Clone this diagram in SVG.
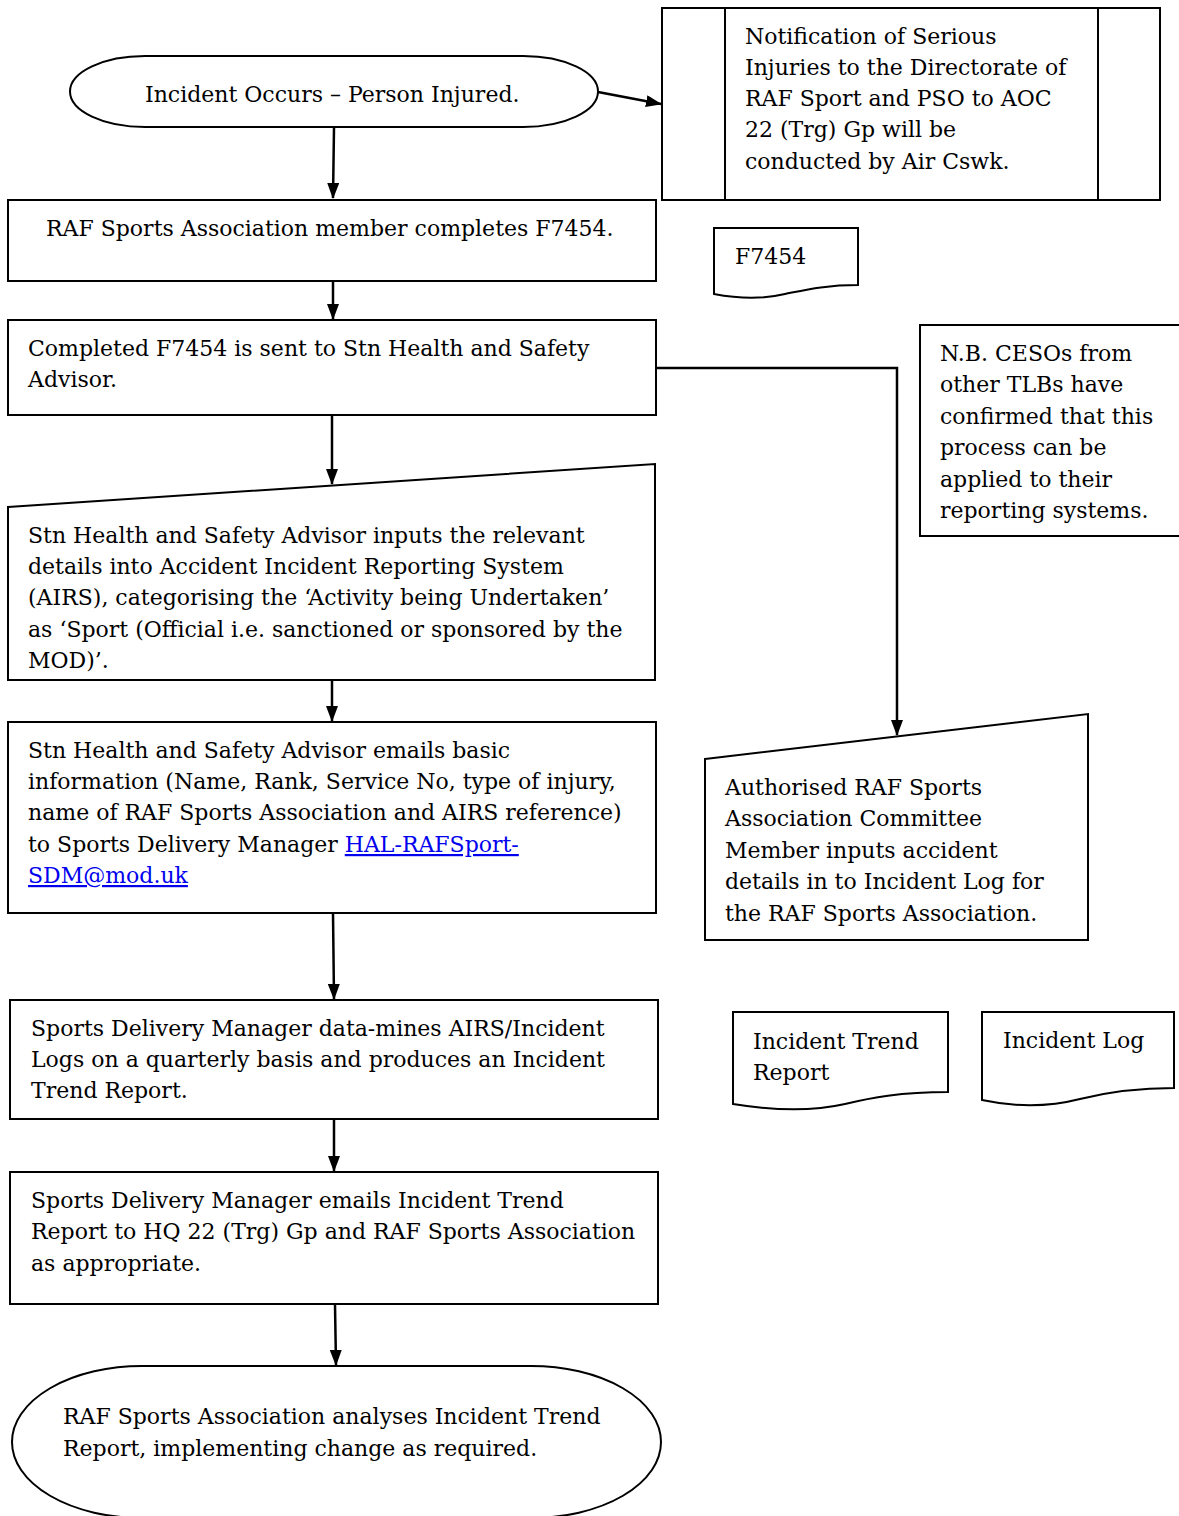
<svg xmlns="http://www.w3.org/2000/svg" width="1179" height="1516" viewBox="0 0 1179 1516">
<defs>
<marker id="ah" viewBox="0 0 16 12" refX="15" refY="6" markerWidth="16" markerHeight="12" markerUnits="userSpaceOnUse" orient="auto">
<path d="M0,0 L16,6 L0,12 Z" fill="#000"/>
</marker>
<style>
.s{fill:#fff;stroke:#000;stroke-width:2}
.t{font-family:"DejaVu Serif","Liberation Serif",serif;font-size:22px;fill:#000}
.c{fill:none;stroke:#000;stroke-width:2.5}
.l{fill:#0000ee;text-decoration:underline}
</style>
</defs>
<rect width="1179" height="1516" fill="#fff"/>
<g id="start">
<rect class="s" x="70" y="56" width="528" height="71" rx="75" ry="35.5"/>
<text class="t" x="145" y="102">Incident Occurs – Person Injured.</text>
</g>
<g id="notify">
<rect class="s" x="662" y="8" width="498" height="192"/>
<line class="s" x1="725" y1="8" x2="725" y2="200"/>
<line class="s" x1="1098" y1="8" x2="1098" y2="200"/>
<text class="t" x="745" y="44">Notification of Serious</text>
<text class="t" x="745" y="75">Injuries to the Directorate of</text>
<text class="t" x="745" y="106">RAF Sport and PSO to AOC</text>
<text class="t" x="745" y="137">22 (Trg) Gp will be</text>
<text class="t" x="745" y="169">conducted by Air Cswk.</text>
</g>
<g id="complete">
<rect class="s" x="8" y="200" width="648" height="81"/>
<text class="t" x="46" y="236">RAF Sports Association member completes F7454.</text>
</g>
<g id="docF7454">
<path class="s" d="M714,228 H858 V285 C825,285 805,290 785,294 C760,300 735,298 714,294 Z"/>
<text class="t" x="735" y="264">F7454</text>
</g>
<g id="sent">
<rect class="s" x="8" y="320" width="648" height="95"/>
<text class="t" x="28" y="356">Completed F7454 is sent to Stn Health and Safety</text>
<text class="t" x="28" y="387">Advisor.</text>
</g>
<g id="note">
<path class="s" d="M1180,325 H920 V536 H1180"/>
<text class="t" x="940" y="361">N.B. CESOs from</text>
<text class="t" x="940" y="392">other TLBs have</text>
<text class="t" x="940" y="424">confirmed that this</text>
<text class="t" x="940" y="455">process can be</text>
<text class="t" x="940" y="487">applied to their</text>
<text class="t" x="940" y="518">reporting systems.</text>
</g>
<g id="airs">
<path class="s" d="M8,507 L655,464 V680 H8 Z"/>
<text class="t" x="28" y="543">Stn Health and Safety Advisor inputs the relevant</text>
<text class="t" x="28" y="574">details into Accident Incident Reporting System</text>
<text class="t" x="28" y="605">(AIRS), categorising the ‘Activity being Undertaken’</text>
<text class="t" x="28" y="637">as ‘Sport (Official i.e. sanctioned or sponsored by the</text>
<text class="t" x="28" y="668">MOD)’.</text>
</g>
<g id="email">
<rect class="s" x="8" y="722" width="648" height="191"/>
<text class="t" x="28" y="758">Stn Health and Safety Advisor emails basic</text>
<text class="t" x="28" y="789">information (Name, Rank, Service No, type of injury,</text>
<text class="t" x="28" y="820">name of RAF Sports Association and AIRS reference)</text>
<text class="t" x="28" y="852">to Sports Delivery Manager <tspan class="l">HAL-RAFSport-</tspan></text>
<text class="t l" x="28" y="883">SDM@mod.uk</text>
</g>
<g id="log">
<path class="s" d="M705,759 L1088,714 V940 H705 Z"/>
<text class="t" x="725" y="795">Authorised RAF Sports</text>
<text class="t" x="725" y="826">Association Committee</text>
<text class="t" x="725" y="858">Member inputs accident</text>
<text class="t" x="725" y="889">details in to Incident Log for</text>
<text class="t" x="725" y="921">the RAF Sports Association.</text>
</g>
<g id="datamine">
<rect class="s" x="10" y="1000" width="648" height="119"/>
<text class="t" x="31" y="1036">Sports Delivery Manager data-mines AIRS/Incident</text>
<text class="t" x="31" y="1067">Logs on a quarterly basis and produces an Incident</text>
<text class="t" x="31" y="1098">Trend Report.</text>
</g>
<g id="docTrend">
<path class="s" d="M733,1012 H948 V1092 C900,1092 870,1098 845,1104 C810,1112 770,1110 733,1104 Z"/>
<text class="t" x="753" y="1049">Incident Trend</text>
<text class="t" x="753" y="1080">Report</text>
</g>
<g id="docLog">
<path class="s" d="M982,1012 H1174 V1088 C1130,1088 1100,1094 1080,1099 C1045,1108 1010,1106 982,1100 Z"/>
<text class="t" x="1003" y="1048">Incident Log</text>
</g>
<g id="report">
<rect class="s" x="10" y="1172" width="648" height="132"/>
<text class="t" x="31" y="1208">Sports Delivery Manager emails Incident Trend</text>
<text class="t" x="31" y="1239">Report to HQ 22 (Trg) Gp and RAF Sports Association</text>
<text class="t" x="31" y="1271">as appropriate.</text>
</g>
<g id="end">
<rect class="s" x="12" y="1366" width="649" height="152" rx="130" ry="76"/>
<text class="t" x="63" y="1424">RAF Sports Association analyses Incident Trend</text>
<text class="t" x="63" y="1456">Report, implementing change as required.</text>
</g>
<g id="connectors">
<line class="c" x1="334" y1="128" x2="333" y2="198" marker-end="url(#ah)"/>
<line class="c" x1="598" y1="92" x2="661" y2="104" marker-end="url(#ah)"/>
<line class="c" x1="333" y1="281" x2="333" y2="319" marker-end="url(#ah)"/>
<polyline class="c" points="656,368 897,368 897,735" marker-end="url(#ah)"/>
<line class="c" x1="332" y1="415" x2="332" y2="484" marker-end="url(#ah)"/>
<line class="c" x1="332" y1="680" x2="332" y2="721" marker-end="url(#ah)"/>
<line class="c" x1="333" y1="913" x2="334" y2="999" marker-end="url(#ah)"/>
<line class="c" x1="334" y1="1120" x2="334" y2="1171" marker-end="url(#ah)"/>
<line class="c" x1="335" y1="1305" x2="336" y2="1365" marker-end="url(#ah)"/>
</g>
</svg>
